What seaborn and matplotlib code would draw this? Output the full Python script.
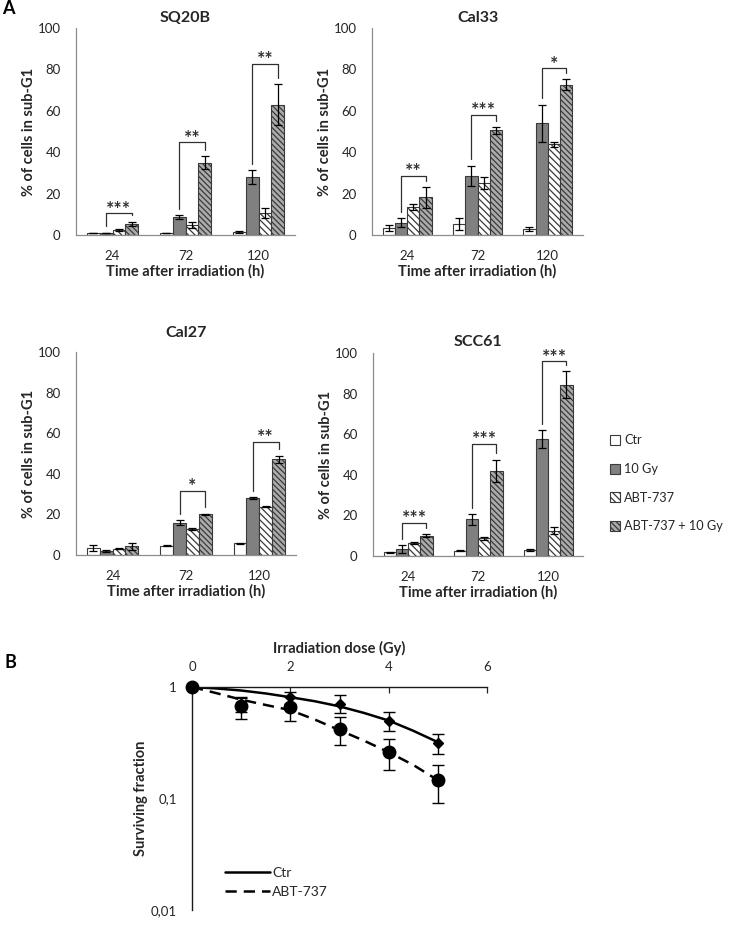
import matplotlib
matplotlib.use("Agg")
import matplotlib.pyplot as plt
import numpy as np
import pandas as pd
import seaborn as sns
from matplotlib.ticker import FixedLocator, LogLocator, NullFormatter, FuncFormatter
from matplotlib.patches import Patch

# ---------------- data ----------------
times = ["24", "72", "120"]
treatments = ["Ctr", "10 Gy", "ABT-737", "ABT-737 + 10 Gy"]

# rows: Ctr, 10 Gy, ABT-737, ABT-737 + 10 Gy ; columns: 24, 72, 120 h
sq20b_mean = [[1.0, 1.0, 1.5], [1.0, 8.5, 28.0], [2.3, 5.0, 10.5], [5.5, 35.0, 63.0]]
sq20b_err = [[0.2, 0.2, 0.5], [0.2, 1.0, 3.5], [0.5, 1.5, 2.5], [1.0, 3.0, 10.0]]
cal33_mean = [[3.5, 5.3, 2.9], [6.0, 28.5, 54.0], [13.4, 25.0, 43.9], [18.2, 50.5, 72.7]]
cal33_err = [[1.5, 3.0, 1.0], [2.0, 5.0, 9.0], [1.5, 3.0, 1.2], [5.0, 1.8, 2.5]]
cal27_mean = [[3.6, 4.6, 5.8], [2.0, 15.8, 28.1], [3.2, 12.6, 23.8], [4.2, 20.0, 47.2]]
cal27_err = [[1.5, 0.2, 0.3], [0.4, 1.2, 0.5], [0.4, 0.5, 0.3], [1.5, 0.4, 1.8]]
scc61_mean = [[1.8, 2.6, 3.0], [3.5, 18.0, 57.7], [6.2, 8.7, 12.5], [10.0, 42.0, 84.4]]
scc61_err = [[0.2, 0.3, 0.3], [1.8, 2.8, 4.5], [0.5, 0.8, 1.8], [0.8, 5.5, 6.5]]

# significance (10 Gy vs ABT-737 + 10 Gy)
sq20b_stars = ["***", "**", "**"]
cal33_stars = ["**", "***", "*"]
cal27_stars = [None, "*", "**"]
scc61_stars = ["***", "***", "***"]
sq20b_bracket = [10.5, 44.7, 82.6]
cal33_bracket = [28.7, 58.0, 80.6]
cal27_bracket = [None, 31.6, 55.9]
scc61_bracket = [16.4, 55.3, 95.9]

# clonogenic survival
dose = [0, 1, 2, 3, 4, 5]
ctr_sf = [1.0, 0.70, 0.81, 0.71, 0.50, 0.315]
ctr_sf_err = [0.0, 0.10, 0.10, 0.13, 0.10, 0.065]
abt_sf = [1.0, 0.67, 0.66, 0.42, 0.26, 0.146]
abt_sf_err = [0.0, 0.15, 0.16, 0.12, 0.08, 0.055]
fit_dose = [0, 0.5, 1, 1.5, 2, 2.5, 3, 3.5, 4, 4.5, 5]
ctr_fit = [1.0, 0.97, 0.93, 0.875, 0.81, 0.745, 0.67, 0.585, 0.50, 0.405, 0.32]
abt_fit = [1.0, 0.88, 0.77, 0.69, 0.62, 0.51, 0.41, 0.33, 0.26, 0.20, 0.146]

# ---------------- style ----------------
sns.set_style("white")
plt.rcParams["font.family"] = ["Lato", "DejaVu Sans"]
plt.rcParams["hatch.linewidth"] = 0.9

TXT = "#262626"
SPINE = "#8c8c8c"
EDGE = "#3a3a3a"
face = {"Ctr": "white", "10 Gy": "#808080", "ABT-737": "white", "ABT-737 + 10 Gy": "#ababab"}
hatches = {"Ctr": "", "10 Gy": "", "ABT-737": "\\\\\\\\\\", "ABT-737 + 10 Gy": "\\\\\\\\\\\\"}

fig = plt.figure(figsize=(7.34, 9.25), dpi=100)

W, H = 734.0, 925.0


def box(x0, x1, ytop, ybot):
    return [x0 / W, 1 - ybot / H, (x1 - x0) / W, (ybot - ytop) / H]


def bar_panel(rect, title, means, errs, stars, brackets, title_pad):
    ax = fig.add_axes(rect)
    rows = []
    for ti, tr in enumerate(treatments):
        for ci, t in enumerate(times):
            rows.append({"time": t, "treatment": tr, "value": means[ti][ci]})
    df = pd.DataFrame(rows)
    sns.barplot(data=df, x="time", y="value", hue="treatment", order=times,
                hue_order=treatments, palette=face, errorbar=None, width=0.7,
                edgecolor=EDGE, linewidth=0.8, legend=False, ax=ax, saturation=1)
    bar_containers = list(ax.containers)
    centers = []
    for ti, cont in enumerate(bar_containers):
        xs = []
        for bar in cont:
            bar.set_hatch(hatches[treatments[ti]])
            bar.set_edgecolor(EDGE)
            xs.append(bar.get_x() + bar.get_width() / 2)
        centers.append(xs)
    for ti in range(len(treatments)):
        ax.errorbar(centers[ti], means[ti], yerr=errs[ti], fmt="none", ecolor="black",
                    elinewidth=0.9, capsize=3, capthick=0.9, zorder=5)
    # significance brackets
    for ci in range(3):
        if stars[ci] is None:
            continue
        x1 = centers[1][ci]
        x2 = centers[3][ci]
        top = brackets[ci]
        y1 = means[1][ci] + errs[1][ci] + 3
        y2 = means[3][ci] + errs[3][ci] + 3
        ax.plot([x1, x1, x2, x2], [y1, top, top, y2], color="#303030", lw=0.9,
                clip_on=False, zorder=6)
        ax.annotate(stars[ci], xy=((x1 + x2) / 2, top), xytext=(0, -1.0),
                    textcoords="offset points", ha="center", va="baseline",
                    fontsize=14, fontweight="bold", color="#303030",
                    annotation_clip=False)
    ax.set_ylim(0, 100)
    ax.set_xlim(-0.5, 2.5)
    ax.set_yticks([0, 20, 40, 60, 80, 100])
    ax.xaxis.set_minor_locator(FixedLocator([-0.5, 0.5, 1.5, 2.5]))
    ax.tick_params(axis="x", which="major", length=0, labelsize=9.5, colors=TXT, pad=11)
    ax.tick_params(axis="x", which="minor", length=4, width=0.8, color=SPINE, direction="out")
    ax.tick_params(axis="y", length=4, width=0.8, color=SPINE, direction="out",
                   labelsize=9.5, labelcolor=TXT, pad=7)
    for s in ["top", "right"]:
        ax.spines[s].set_visible(False)
    for s in ["left", "bottom"]:
        ax.spines[s].set_color(SPINE)
        ax.spines[s].set_linewidth(0.9)
    ax.set_xlabel("Time after irradiation (h)", fontsize=10.5, fontweight="bold", color=TXT, labelpad=1)
    ax.set_ylabel("% of cells in sub-G1", fontsize=10.5, fontweight="bold", color=TXT, labelpad=1)
    ax.set_title(title, fontsize=11.5, fontweight="bold", color=TXT, pad=title_pad)
    return ax


bar_panel(box(76, 295, 28, 235), "SQ20B", sq20b_mean, sq20b_err, sq20b_stars, sq20b_bracket, 4)
bar_panel(box(372, 583, 28, 235), "Cal33", cal33_mean, cal33_err, cal33_stars, cal33_bracket, 4)
bar_panel(box(76, 296, 352, 555), "Cal27", cal27_mean, cal27_err, cal27_stars, cal27_bracket, 11)
bar_panel(box(373, 583, 353, 556), "SCC61", scc61_mean, scc61_err, scc61_stars, scc61_bracket, 5)

# legend for bar panels
handles = [Patch(facecolor=face[t], edgecolor=EDGE, hatch=hatches[t], linewidth=0.8) for t in treatments]
fig.legend(handles, treatments, loc="upper left", bbox_to_anchor=(598 / W, 1 - 423 / H),
           frameon=False, fontsize=9.2, handlelength=0.8, handleheight=0.8,
           handletextpad=0.35, labelspacing=1.3, labelcolor=TXT)

# ---------------- panel B ----------------
axB = fig.add_axes(box(192, 487, 687, 910))
sns.lineplot(x=fit_dose, y=ctr_fit, color="black", lw=1.8, ax=axB, label="Ctr")
sns.lineplot(x=fit_dose, y=abt_fit, color="black", lw=1.8, ax=axB, label="ABT-737")
axB.lines[1].set_linestyle((0, (4.5, 2.8)))
axB.errorbar(dose, ctr_sf, yerr=ctr_sf_err, fmt="D", color="black", ms=5,
             elinewidth=1.0, capsize=4, capthick=1.0, clip_on=False, zorder=4)
axB.errorbar(dose, abt_sf, yerr=abt_sf_err, fmt="o", color="black", ms=9,
             elinewidth=1.0, capsize=4, capthick=1.0, clip_on=False, zorder=5)
axB.set_yscale("log")
axB.set_ylim(0.01, 1)
axB.set_xlim(0, 6)
axB.set_xticks([0, 2, 4, 6])
axB.xaxis.tick_top()
axB.xaxis.set_label_position("top")
axB.yaxis.set_major_locator(FixedLocator([0.01, 0.1, 1]))
axB.yaxis.set_minor_locator(LogLocator(base=10, subs=np.arange(2, 10)))
axB.yaxis.set_minor_formatter(NullFormatter())
axB.yaxis.set_major_formatter(FuncFormatter(lambda v, p: {1: "1", 0.1: "0,1", 0.01: "0,01"}.get(round(v, 3), "")))
for s in ["bottom", "right"]:
    axB.spines[s].set_visible(False)
for s in ["top", "left"]:
    axB.spines[s].set_color("#1a1a1a")
    axB.spines[s].set_linewidth(1.0)
axB.tick_params(axis="x", direction="in", length=4, width=0.9, labelsize=9.5, colors=TXT, pad=10)
axB.tick_params(axis="y", which="major", direction="out", length=5, width=0.9, labelsize=9.5, labelcolor=TXT, pad=6)
axB.tick_params(axis="y", which="minor", direction="out", length=3, width=0.8)
axB.set_xlabel("Irradiation dose (Gy)", fontsize=10.5, fontweight="bold", color=TXT, labelpad=6)
axB.set_ylabel("Surviving fraction", fontsize=10.5, fontweight="bold", color=TXT, labelpad=2)
axB.legend(loc="lower left", bbox_to_anchor=(0.07, 0.0), frameon=False, fontsize=10,
           handlelength=3.2, handletextpad=0.2, labelspacing=0.5, labelcolor=TXT)

fig.text(2 / W, 1 - 9 / H, "A", fontsize=13, fontweight="bold", va="center", ha="left", color="black")
fig.text(5 / W, 1 - 663 / H, "B", fontsize=13, fontweight="bold", va="center", ha="left", color="black")

fig.savefig("out.png", dpi=100)
